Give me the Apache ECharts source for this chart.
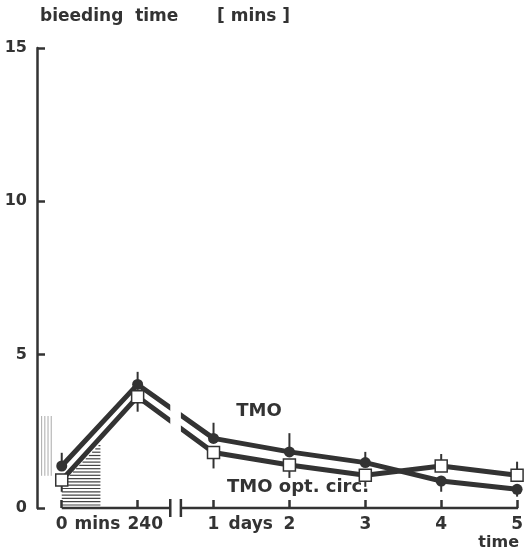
<!DOCTYPE html>
<html><head><meta charset="utf-8">
<script src="https://cdn.jsdelivr.net/npm/echarts@6/dist/echarts.min.js"></script>
<style>html,body{margin:0;padding:0;background:#fff}#c{width:526px;height:554px}</style>
</head><body><div id="c"></div>
<script>
// x positions: 0 = 0 mins, 1 = 240 mins, 2..6 = days 1..5
var xPos = [0, 1, 2, 3, 4, 5, 6];
var tmo = [1.37, 4.03, 2.27, 1.83, 1.48, 0.88, 0.61];
var tmoErrEnd = [1.8, 4.44, 2.78, 2.44, 1.83, 0.53, 0.37];
var optCirc = [0.91, 3.63, 1.81, 1.40, 1.07, 1.37, 1.07];
var optErrEnd = [0.53, 3.14, 1.29, 0.98, 0.69, 1.76, 1.51];
var xLabelPos = [0, 0.47, 1.1, 2, 2.49, 3, 4, 5, 6];
var xLabelText = ['0', 'mins', '240', '1', 'days', '2', '3', '4', '5'];
var xTickPos = [0, 1, 2, 3, 4, 5, 6];
var breakAt = [1.43, 1.57];
var yTicks = [0, 5, 10, 15];
var infusionX = [0, 0.51];
var infusionTop = [0.8, 2.1];
var normalRangeX = [-0.265, -0.134];
var normalRangeY = [1.05, 3.0];

var dark = '#333';
var chart = echarts.init(document.getElementById('c'));

function errSeries(vals, ends) {
  return {
    type: 'custom', z: 1, silent: true, clip: false,
    data: xPos.map(function (x, i) { return [x, vals[i], ends[i]]; }),
    encode: { x: 0, y: [1, 2] },
    renderItem: function (params, api) {
      var p1 = api.coord([api.value(0), api.value(1)]);
      var p2 = api.coord([api.value(0), api.value(2)]);
      return { type: 'line', shape: { x1: p1[0], y1: p1[1], x2: p2[0], y2: p2[1] },
        style: { stroke: dark, lineWidth: 2 } };
    }
  };
}

var option = {
  backgroundColor: '#fff',
  animation: false,
  grid: { left: 37, right: 4, top: 48, bottom: 46 },
  xAxis: {
    type: 'value', min: -0.326, max: 6,
    splitLine: { show: false },
    axisLine: { show: false, onZero: false },
    axisTick: { show: true, inside: true, length: 8, customValues: xTickPos,
      lineStyle: { color: dark, width: 2.5 } },
    axisLabel: { show: true, customValues: xLabelPos, margin: 8,
      fontFamily: 'DejaVu Sans', fontWeight: 'bold', fontSize: 17, color: dark,
      formatter: function (v) {
        var i = xLabelPos.indexOf(v); return i >= 0 ? xLabelText[i] : '';
      } }
  },
  yAxis: {
    type: 'value', min: 0, max: 15, interval: 5,
    splitLine: { show: false },
    axisLine: { show: true, onZero: false, lineStyle: { color: dark, width: 2.5 } },
    axisTick: { show: true, inside: true, length: 8, lineStyle: { color: dark, width: 2.5 } },
    axisLabel: { margin: 10, fontFamily: 'DejaVu Sans', fontWeight: 'bold', fontSize: 16, color: dark }
  },
  graphic: [
    { type: 'text', left: 40, top: 8, style: { text: 'bieeding  time', font: 'bold 17px "DejaVu Sans"', fill: dark } },
    { type: 'text', left: 217, top: 8, style: { text: '[ mins ]', font: 'bold 17px "DejaVu Sans"', fill: dark } },
    { type: 'text', x: 259, y: 411, style: { text: 'TMO', font: 'bold 18px "DejaVu Sans"', fill: dark, align: 'center', verticalAlign: 'middle' } },
    { type: 'text', x: 298, y: 487, style: { text: 'TMO opt. circ.', font: 'bold 18px "DejaVu Sans"', fill: dark, align: 'center', verticalAlign: 'middle' } },
    { type: 'text', x: 519, y: 543, style: { text: 'time', font: 'bold 16px "DejaVu Sans"', fill: dark, align: 'right', verticalAlign: 'middle' } }
  ],
  series: [
    { // infusion hatch (horizontal lines)
      type: 'custom', z: 0, silent: true, clip: false,
      data: [[infusionX[0], infusionX[1], infusionTop[0], infusionTop[1]]],
      encode: { x: [0, 1], y: [2, 3] },
      renderItem: function (params, api) {
        var x0 = api.value(0), x1 = api.value(1), t0 = api.value(2), t1 = api.value(3);
        var pa = api.coord([x0, 0]), pb = api.coord([x1, 0]);
        var ta = api.coord([x0, t0]), tb = api.coord([x1, t1]);
        var bottom = pa[1] - 3;
        var children = [];
        for (var y = bottom; y > tb[1]; y -= 3.3) {
          var xl = pa[0];
          if (y < ta[1]) {
            var f = (ta[1] - y) / (ta[1] - tb[1]);
            xl = ta[0] + f * (tb[0] - ta[0]);
          }
          children.push({ type: 'line', shape: { x1: xl, y1: y, x2: pb[0], y2: y },
            style: { stroke: '#444', lineWidth: 1.2 } });
        }
        return { type: 'group', children: children };
      }
    },
    { // normal range hatch (vertical lines)
      type: 'custom', z: 0, silent: true, clip: false,
      data: [[normalRangeX[0], normalRangeX[1], normalRangeY[0], normalRangeY[1]]],
      encode: { x: [0, 1], y: [2, 3] },
      renderItem: function (params, api) {
        var a = api.coord([api.value(0), api.value(2)]);
        var b = api.coord([api.value(1), api.value(3)]);
        var children = [];
        for (var x = a[0]; x <= b[0] + 0.1; x += 3.2) {
          children.push({ type: 'line', shape: { x1: x, y1: a[1], x2: x, y2: b[1] },
            style: { stroke: '#aaa', lineWidth: 1 } });
        }
        return { type: 'group', children: children };
      }
    },
    errSeries(tmo, tmoErrEnd),
    errSeries(optCirc, optErrEnd),
    {
      name: 'TMO', type: 'line', z: 2,
      data: xPos.map(function (x, i) { return [x, tmo[i]]; }),
      symbol: 'circle', symbolSize: 11, showAllSymbol: true,
      lineStyle: { color: dark, width: 5 },
      itemStyle: { color: dark, borderWidth: 0 }
    },
    {
      name: 'TMO opt. circ.', type: 'line', z: 2,
      data: xPos.map(function (x, i) { return [x, optCirc[i]]; }),
      symbol: 'rect', symbolSize: 12, showAllSymbol: true,
      lineStyle: { color: dark, width: 5 },
      itemStyle: { color: '#fff', borderColor: dark, borderWidth: 1.5 }
    },
    { // axis with break
      type: 'custom', z: 3, silent: true, clip: false,
      data: [[breakAt[0], breakAt[1]]],
      encode: { x: [0, 1] },
      renderItem: function (params, api) {
        var cs = params.coordSys;
        var a = api.coord([api.value(0), 0]);
        var b = api.coord([api.value(1), 0]);
        var s = api.coord([xPos[0], 0]);
        var e = api.coord([xPos[xPos.length - 1], 0]);
        var ay = a[1];
        var ls = { stroke: dark, lineWidth: 2.5 };
        return { type: 'group', children: [
          { type: 'rect', shape: { x: a[0], y: cs.y, width: b[0] - a[0], height: cs.height - 14 },
            style: { fill: '#fff' } },
          { type: 'line', shape: { x1: s[0], y1: ay, x2: a[0], y2: ay }, style: ls },
          { type: 'line', shape: { x1: b[0], y1: ay, x2: e[0] + 1, y2: ay }, style: ls },
          { type: 'line', shape: { x1: a[0], y1: ay - 9, x2: a[0], y2: ay + 9 }, style: ls },
          { type: 'line', shape: { x1: b[0], y1: ay - 9, x2: b[0], y2: ay + 9 }, style: ls }
        ] };
      }
    }
  ]
};
chart.setOption(option);
</script>
</body></html>
